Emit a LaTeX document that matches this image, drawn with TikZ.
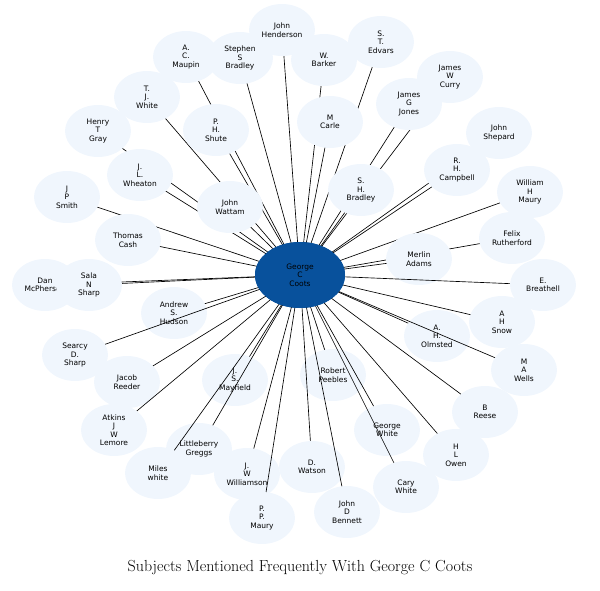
\documentclass[tikz,border=0pt]{standalone}
\usepackage{fontspec}
\newfontfamily\lblfont{DejaVu Sans}
\usetikzlibrary{shapes.geometric}
\definecolor{leaf}{RGB}{240,246,253}
\definecolor{hub}{RGB}{8,81,156}
\tikzset{
  subj/.style={ellipse, fill=leaf, inner sep=0pt, minimum width=66pt, minimum height=52pt,
    align=center, font=\lblfont\fontsize{7.5}{8.5}\selectfont},
  hubnode/.style={subj, fill=hub, minimum width=90pt, minimum height=66pt},
  link/.style={line width=0.65pt, black}
}
\begin{document}
\begin{tikzpicture}[x=1pt, y=-1pt, line join=round, line cap=round]
  \useasboundingbox (0,0) rectangle (600,590);
  %centre
  \node[hubnode] (coots) at (300,275) {George\\C\\Coots};
  %names round it
  \foreach \nm/\px/\py/\txt in {
    mau/186/57/{A.\\C.\\Maupin}, hend/282/30/{John\\Henderson}, edv/381/42/{S.\\T.\\Edvars},
    sbrad/240/58/{Stephen\\S\\Bradley}, bark/324/60/{W.\\Barker}, curry/450/77/{James\\W\\Curry},
    twhite/147/97/{T.\\J.\\White}, jones/409/104/{James\\G\\Jones}, carle/330/122/{M\\Carle},
    gray/98/131/{Henry\\T\\Gray}, shute/216/130/{P.\\H.\\Shute}, shep/499/133/{John\\Shepard},
    whea/140/175/{J.\\L.\\Wheaton}, camp/457/170/{R.\\H.\\Campbell}, shbrad/361/190/{S.\\H.\\Bradley},
    wmaury/530/192/{William\\H\\Maury}, jsmith/67/197/{J\\P\\Smith}, watt/230/207/{John\\Wattam},
    cash/128/240/{Thomas\\Cash}, ruth/512/238/{Felix\\Rutherford}, adams/419/259/{Merlin\\Adams},
    mcp/45/285/{Dan\\McPherson}, sala/89/285/{Sala\\N\\Sharp}, breat/543/285/{E.\\Breathell},
    huds/174/313/{Andrew\\S.\\Hudson}, snow/502/322/{A\\H\\Snow}, olms/437/336/{A.\\H.\\Olmsted},
    searcy/75/355/{Searcy\\D.\\Sharp}, wells/524/370/{M\\A\\Wells}, peeb/333/375/{Robert\\Peebles},
    reed/127/382/{Jacob\\Reeder}, mayf/235/380/{J.\\S.\\Mayfield}, reese/485/412/{B\\Reese},
    lemore/114/430/{Atkins\\J\\W\\Lemore}, gwhite/387/430/{George\\White}, gregg/199/449/{Littleberry\\Greggs},
    owen/456/455/{H\\L\\Owen}, mwhite/158/473/{Miles\\white}, wats/312/467/{D.\\Watson},
    will/247/474/{J.\\W\\Williamson}, cwhite/406/487/{Cary\\White}, benn/347/512/{John\\D\\Bennett},
    pmaury/262/518/{P.\\P.\\Maury}}
  {
    \draw[link] (coots.center) -- (\px,\py);
    \node[subj] (\nm) at (\px,\py) {\txt};
  }
  \node[hubnode] (coots) at (300,275) {George\\C\\Coots};
  \node[font=\fontsize{16}{18}\selectfont] (title) at (300,568) {Subjects Mentioned Frequently With George C Coots};
\end{tikzpicture}
\end{document}
